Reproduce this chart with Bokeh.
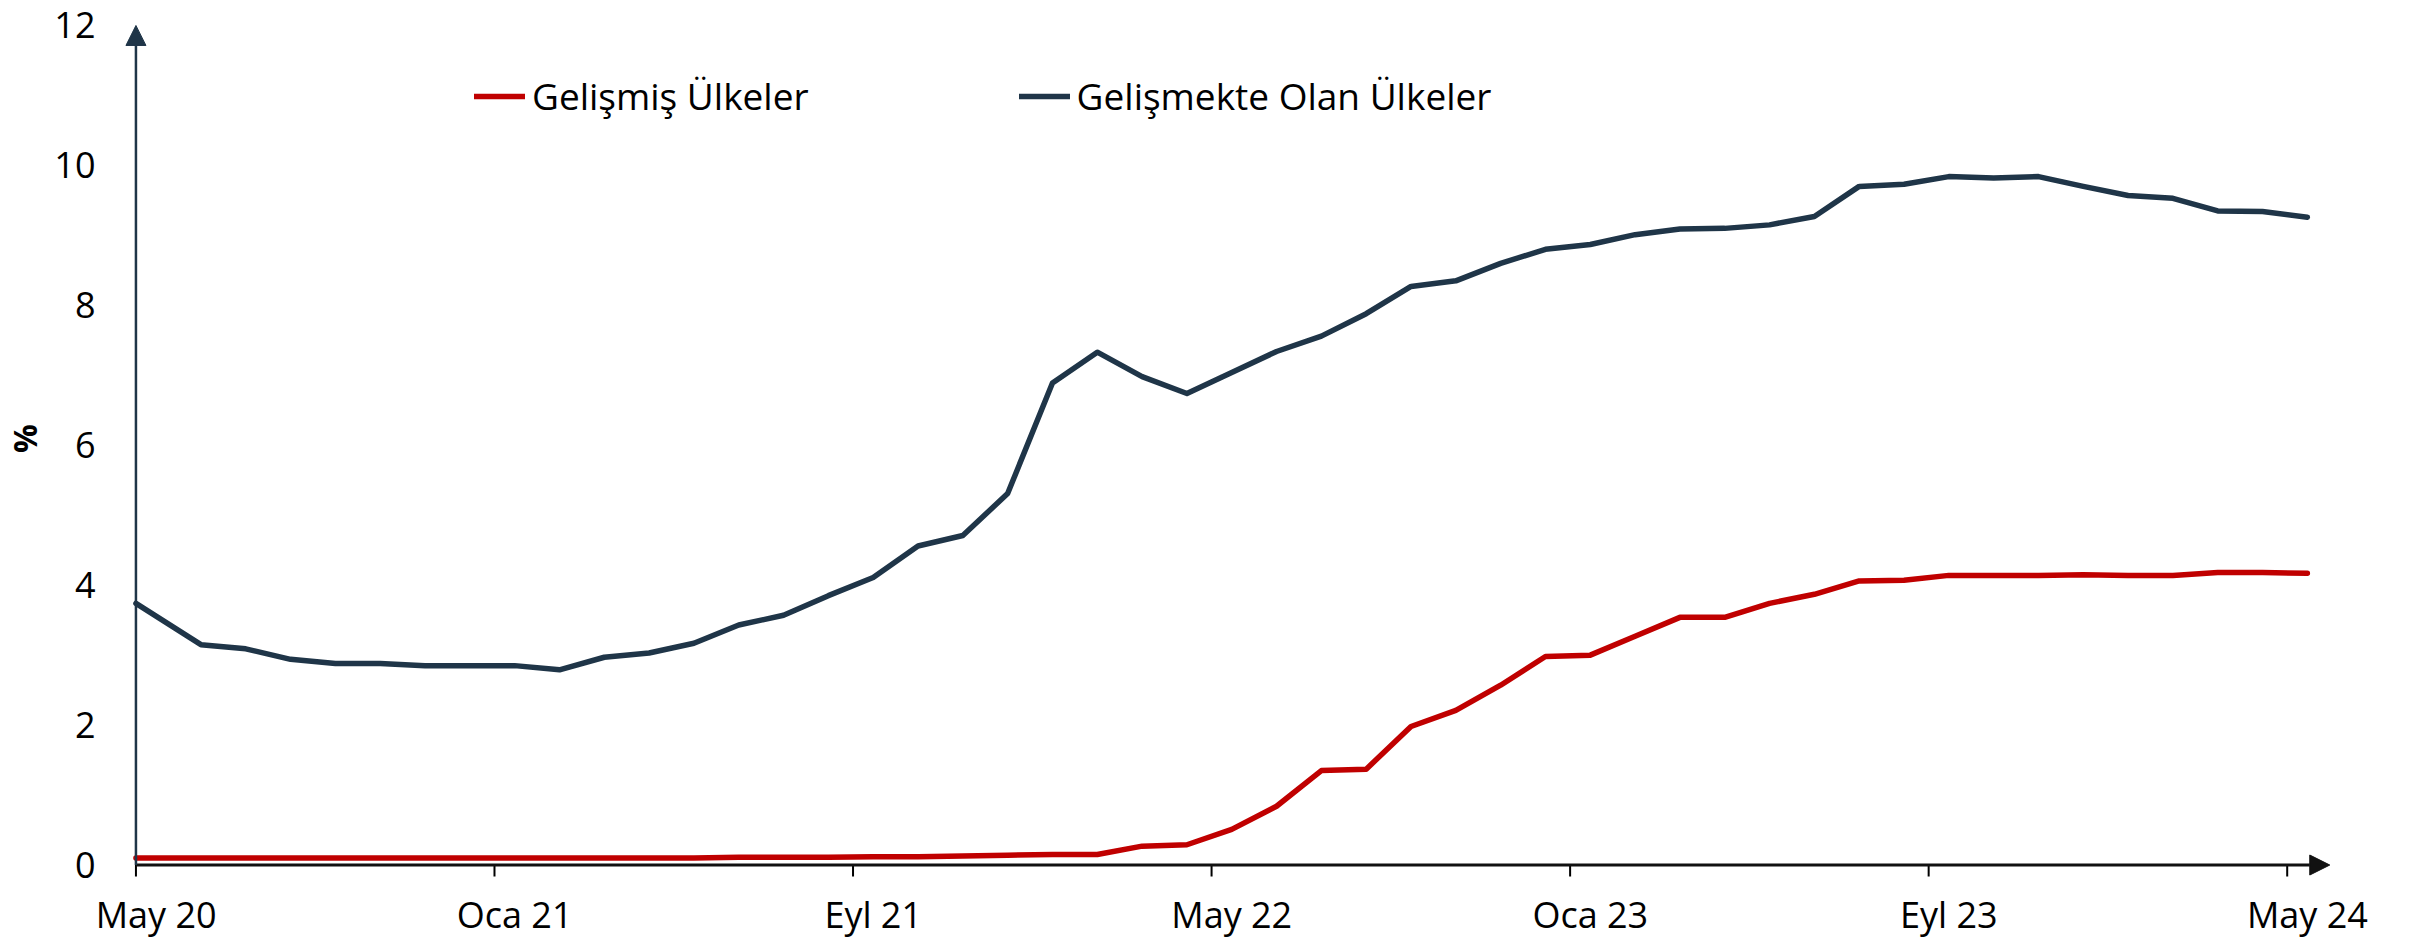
import math
from bokeh.plotting import figure
from bokeh.models import (Range1d, FixedTicker, Arrow, NormalHead, Legend,
                          LegendItem)
from bokeh.embed import file_html
from bokeh.resources import INLINE

# ---- data (monthly, May 2020 .. May 2024) ----
months = list(range(49))
developed = [0.10, 0.10, 0.10, 0.10, 0.10, 0.10, 0.10, 0.10, 0.10, 0.10,
             0.10, 0.10, 0.10, 0.11, 0.11, 0.11, 0.12, 0.12, 0.13, 0.14,
             0.15, 0.15, 0.27, 0.29, 0.51, 0.84, 1.35, 1.37, 1.98, 2.21,
             2.57, 2.98, 3.00, 3.27, 3.54, 3.54, 3.74, 3.87, 4.06, 4.07,
             4.14, 4.14, 4.14, 4.15, 4.14, 4.14, 4.18, 4.18, 4.17]
emerging = [3.74, 3.15, 3.09, 2.94, 2.88, 2.88, 2.85, 2.85, 2.85, 2.79,
            2.97, 3.03, 3.17, 3.43, 3.57, 3.85, 4.11, 4.56, 4.71, 5.31,
            6.89, 7.33, 6.98, 6.74, 7.04, 7.34, 7.56, 7.88, 8.27, 8.35,
            8.60, 8.80, 8.87, 9.01, 9.09, 9.10, 9.15, 9.27, 9.70, 9.73,
            9.84, 9.82, 9.84, 9.70, 9.57, 9.53, 9.35, 9.34, 9.26]
tick_months = [0, 8, 16, 24, 32, 40, 48]
tick_labels = ["May 20", "Oca 21", "Eyl 21", "May 22", "Oca 23", "Eyl 23", "May 24"]
y_ticks = [0, 2, 4, 6, 8, 10, 12]
series_names = ["Gelişmiş Ülkeler", "Gelişmekte Olan Ülkeler"]
y_title = "%"

RED = "#C00000"
NAVY = "#1F3548"
FONT = "Open Sans"

axis_start = -0.45          # axis origin (month boundary before the first label)
x_pos = [axis_start] + months[1:]
y_max = y_ticks[-1]

p = figure(width=2400, height=946, output_backend="svg", toolbar_location=None,
           x_range=Range1d(-0.75, 48.65), y_range=Range1d(-0.164, 12.357),
           min_border_left=120, min_border_right=64, min_border_top=0,
           min_border_bottom=70)
p.outline_line_color = None
p.xgrid.visible = False
p.ygrid.visible = False
p.background_fill_color = "white"

# axes (lines and ticks drawn separately)
p.xaxis.ticker = FixedTicker(ticks=tick_months)
p.xaxis.major_label_overrides = {m: l for m, l in zip(tick_months, tick_labels)}
p.xaxis.axis_line_color = None
p.xaxis.major_tick_line_color = None
p.xaxis.minor_tick_line_color = None
p.xaxis.major_tick_out = 0
p.xaxis.major_tick_in = 0
p.xaxis.major_label_standoff = 13
p.xaxis.major_label_text_font = FONT
p.xaxis.major_label_text_font_size = "36px"
p.xaxis.major_label_text_color = "#000000"

p.yaxis.ticker = FixedTicker(ticks=y_ticks)
p.yaxis.axis_line_color = None
p.yaxis.major_tick_line_color = None
p.yaxis.minor_tick_line_color = None
p.yaxis.major_tick_out = 0
p.yaxis.major_tick_in = 0
p.yaxis.major_label_standoff = 27
p.yaxis.major_label_text_font = FONT
p.yaxis.major_label_text_font_size = "36px"
p.yaxis.major_label_text_color = "#000000"
p.yaxis.axis_label = y_title
p.yaxis.axis_label_standoff = 5
p.yaxis.axis_label_text_font = FONT
p.yaxis.axis_label_text_font_size = "32px"
p.yaxis.axis_label_text_font_style = "bold"
p.yaxis.axis_label_text_color = "#000000"

# x tick marks at month boundaries
bounds = [m + axis_start for m in tick_months]
p.segment(x0=bounds, y0=[0] * len(bounds), x1=bounds, y1=[-0.175] * len(bounds),
          line_color="#000000", line_width=2)

# axis arrows
p.add_layout(Arrow(x_start=axis_start, y_start=0, x_end=48.5, y_end=0,
                   line_color="#111111", line_width=3,
                   end=NormalHead(size=20, fill_color="#111111", line_color="#111111", line_width=1)))
p.add_layout(Arrow(x_start=axis_start, y_start=0, x_end=axis_start, y_end=y_max,
                   line_color=NAVY, line_width=2.5,
                   end=NormalHead(size=20, fill_color=NAVY, line_color=NAVY, line_width=1)))

r_blue = p.line(x_pos, emerging, line_color=NAVY, line_width=5.5,
                line_join="round", line_cap="round")
r_red = p.line(x_pos, developed, line_color=RED, line_width=5.5,
               line_join="round", line_cap="round")

legend = Legend(items=[LegendItem(label=series_names[0], renderers=[r_red]),
                       LegendItem(label=series_names[1], renderers=[r_blue])],
                orientation="horizontal", location=(352, 755),
                glyph_width=51, glyph_height=20, label_standoff=7, spacing=210,
                padding=0, margin=0, border_line_color=None,
                background_fill_alpha=0,
                label_text_font=FONT, label_text_font_size="37px",
                label_text_color="#000000")
p.add_layout(legend)

open("out.html", "w").write(file_html(p, INLINE))
